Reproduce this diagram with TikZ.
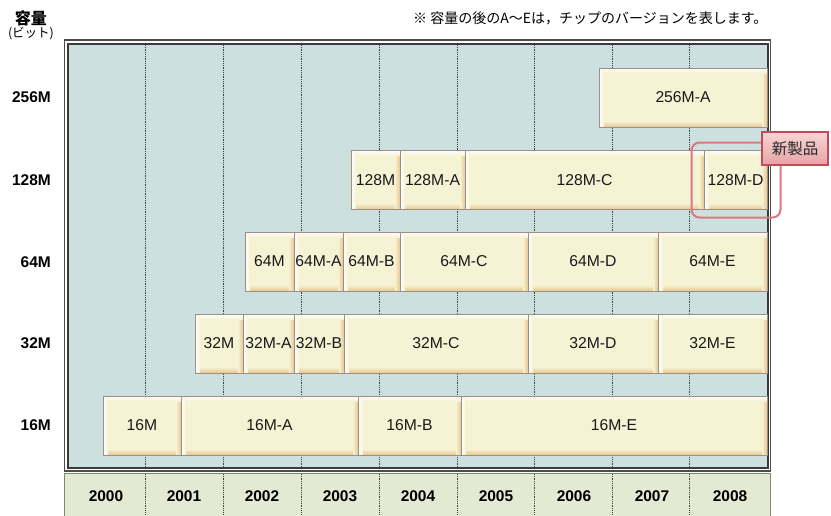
\documentclass[tikz,border=0pt]{standalone}
\usepackage{fontspec}
\setmainfont{Liberation Sans}
\newfontfamily\jp{Noto Sans CJK JP}
\definecolor{chipfill}{HTML}{F6F2D4}
\definecolor{chiplow}{HTML}{E6C68E}
\definecolor{chipborder}{HTML}{A08E86}
\definecolor{bgteal}{HTML}{CCE0E0}
\definecolor{yearstrip}{HTML}{E4E9D3}
\definecolor{yearedge}{HTML}{7E8C6C}
\definecolor{framedark}{HTML}{3A3A3A}
\definecolor{newred}{HTML}{DA787D}
\definecolor{labred}{HTML}{C44A5A}
\definecolor{labtop}{HTML}{F7D6D6}
\definecolor{labbot}{HTML}{E6A2A6}
\newcommand\mychip[5]{\node[chip, minimum width={(#3-#2)*1pt}] (#1) at ({(#2+#3)/2},#4) {#5};}
\begin{document}
\begin{tikzpicture}[x=1pt,y=-1pt,
  chip/.style={draw=chipborder, line width=1pt, fill=chipfill, inner sep=0pt,
    minimum height=59pt, text=black!90, font=\fontsize{15.7}{18}\selectfont,
    path picture={
      \path (path picture bounding box.south west) coordinate (sw)
            (path picture bounding box.north east) coordinate (ne)
            (path picture bounding box.north west) coordinate (nw)
            (path picture bounding box.south east) coordinate (se);
      \shade[top color=chipfill, bottom color=chiplow] ([yshift=6pt]sw) rectangle (se);
      \shade[left color=chipfill, right color=chiplow] ([xshift=-5pt]se) rectangle (ne);
      \shade[top color=white, bottom color=chipfill] (nw) rectangle ([yshift=-5pt]ne);
      \shade[left color=white, right color=chipfill] (sw) rectangle ([xshift=5pt]nw);
    }},
  rowlab/.style={anchor=east, inner sep=0pt, font=\fontsize{15.5}{17}\selectfont\bfseries},
  yearlab/.style={font=\fontsize{15.5}{17}\selectfont\bfseries},
  gridline/.style={densely dotted, line width=0.8pt, black!75}
]
\useasboundingbox (0,0) rectangle (831,515);
% frame
\draw[line width=1.3pt, black!70, fill=white] (64.5,40) rectangle (770.5,471);
\draw[line width=1.6pt, framedark, fill=bgteal] (68,44) rectangle (768,468);
% year strip
\draw[line width=1pt, yearedge, fill=yearstrip] (64.5,473.5) rectangle (770.5,520);
% grid lines
\foreach \gx in {145,223,301,379,457,534,612,689} {
  \draw[gridline] (\gx,45) -- (\gx,467);
  \draw[gridline] (\gx,474) -- (\gx,515);
}
% years
\foreach \yr [count=\i from 0] in {2000,2001,2002,2003,2004,2005,2006,2007,2008}
  \node[yearlab] (y\yr) at ({106+78*\i},496) {\yr};
% axis labels
\node[font=\jp\bfseries\fontsize{16}{18}\selectfont] (cap) at (31,18) {容量};
\node[font=\jp\fontsize{12.5}{14}\selectfont] (bit) at (31,34) {(ビット)};
\node[anchor=west, inner sep=0pt, font=\jp\fontsize{14}{16}\selectfont] (note) at (413,18.5) {※ 容量の後のA〜Eは，チップのバージョンを表します。};
% row labels
\node[rowlab] (r256) at (51,97.5) {256M};
\node[rowlab] (r128) at (51,180) {128M};
\node[rowlab] (r64) at (51,262) {64M};
\node[rowlab] (r32) at (51,343.5) {32M};
\node[rowlab] (r16) at (51,425.5) {16M};
% chips
\mychip{a256}{599}{767}{97.5}{256M-A}
\mychip{m128}{351}{400}{180}{128M}
\mychip{a128}{400}{465}{180}{128M-A}
\mychip{c128}{465}{704}{180}{128M-C}
\mychip{d128}{704}{767}{180}{128M-D}
\mychip{m64}{245}{294}{261.5}{64M}
\mychip{a64}{294}{343}{261.5}{64M-A}
\mychip{b64}{343}{400}{261.5}{64M-B}
\mychip{c64}{400}{528}{261.5}{64M-C}
\mychip{d64}{528}{658}{261.5}{64M-D}
\mychip{e64}{658}{767}{261.5}{64M-E}
\mychip{m32}{195}{243}{343.5}{32M}
\mychip{a32}{243}{294}{343.5}{32M-A}
\mychip{b32}{294}{344}{343.5}{32M-B}
\mychip{c32}{344}{528}{343.5}{32M-C}
\mychip{d32}{528}{658}{343.5}{32M-D}
\mychip{e32}{658}{767}{343.5}{32M-E}
\mychip{m16}{103}{181}{425.5}{16M}
\mychip{a16}{181}{358}{425.5}{16M-A}
\mychip{b16}{358}{461}{425.5}{16M-B}
\mychip{e16}{461}{767}{425.5}{16M-E}
% new product highlight
\node[draw=newred, line width=2pt, rounded corners=8pt, minimum width=89pt, minimum height=75pt, inner sep=0pt] (newbox) at (736,180) {};
\node[draw=labred, line width=1.2pt, top color=labtop, bottom color=labbot, minimum width=66pt, minimum height=33pt, inner sep=0pt, font=\jp\fontsize{15.5}{17}\selectfont, text=black!85] (newlab) at (795,148.5) {新製品};
\end{tikzpicture}
\end{document}
